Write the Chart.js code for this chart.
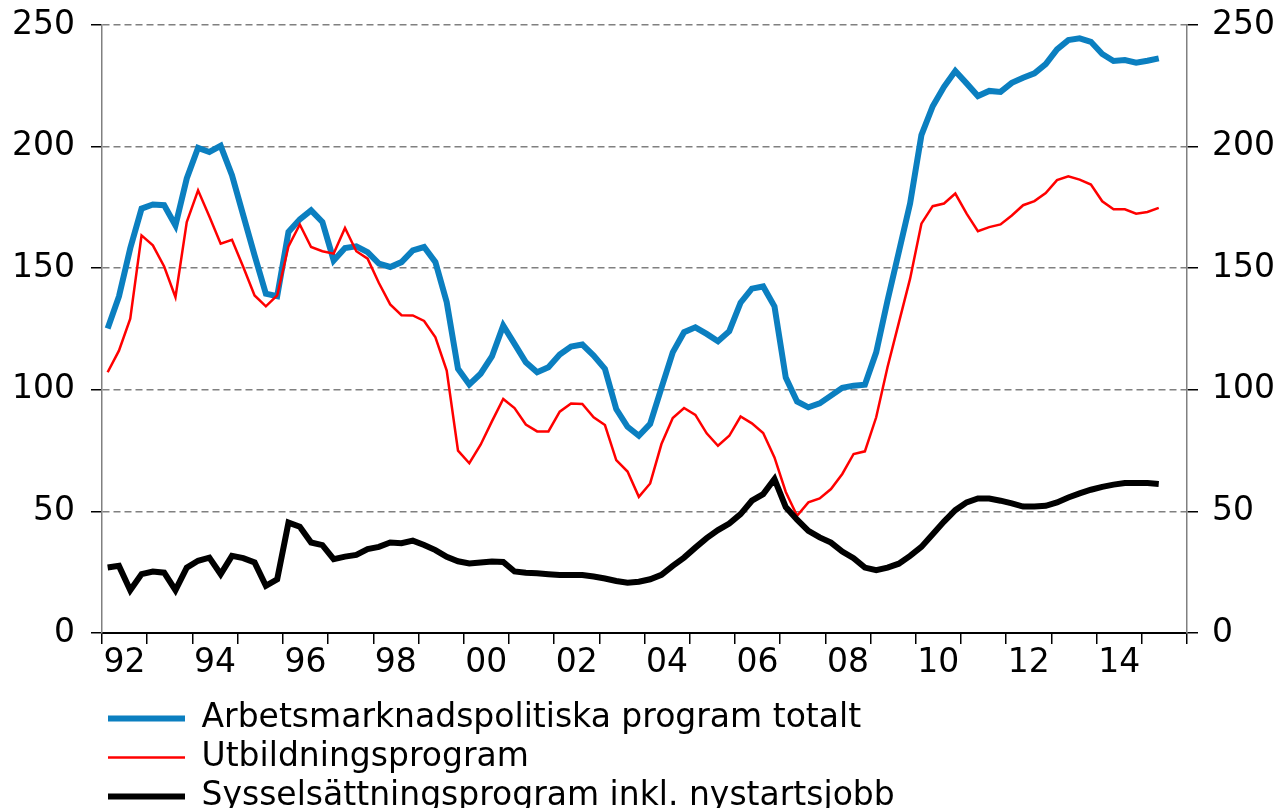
<!DOCTYPE html>
<html>
<head>
<meta charset="utf-8">
<script src="https://cdn.jsdelivr.net/npm/chart.js@4.4.0/dist/chart.umd.min.js"></script>
<style>
  html, body { margin: 0; padding: 0; background: #fff; overflow: hidden; }
  #wrap { width: 1280px; height: 823px; }
</style>
</head>
<body>
<div id="wrap"><canvas id="chart" width="1280" height="823"></canvas></div>
<script>
// quarterly data, 1992 Q1 - 2015 Q2 (thousands of persons)
const startYear = 1992;
const endYear = 2016;
const seriesNames = [
    "Arbetsmarknadspolitiska program totalt",
    "Utbildningsprogram",
    "Sysselsättningsprogram inkl. nystartsjobb"
];

const totalt = [
    125.2, 138.4, 158.2, 174.5, 176.2, 175.9, 167.6, 186.9, 199.5, 197.8,
    200.3, 188.2, 171.7, 155.3, 139.5, 138.5, 164.9, 170.1, 173.8, 169.0,
    153.2, 158.3, 159.0, 156.6, 151.9, 150.5, 152.5, 157.3, 158.7, 152.5,
    136.0, 108.6, 102.2, 106.6, 113.7, 126.4, 118.9, 111.3, 107.2, 109.3,
    114.5, 117.8, 118.6, 114.1, 108.6, 92.1, 84.8, 81.1, 86.0, 100.8,
    115.4, 123.7, 125.7, 123.0, 120.0, 124.1, 135.8, 141.6, 142.5, 134.3,
    105.0, 95.2, 92.8, 94.4, 97.6, 100.8, 101.7, 102.1, 115.4, 136.7,
    156.6, 176.6, 204.7, 216.6, 224.6, 231.1, 226.0, 220.8, 222.9, 222.5,
    226.2, 228.3, 230.1, 233.9, 240.0, 243.8, 244.5, 243.1, 238.1, 235.2,
    235.6, 234.5, 235.3, 236.3
];

const utbildning = [
    107.2, 116.1, 129.2, 163.5, 159.4, 150.7, 138.1, 169.0, 182.0, 171.3,
    160.1, 161.7, 150.5, 138.8, 134.3, 138.8, 159.0, 168.0, 158.7, 157.0,
    156.0, 166.5, 157.0, 153.9, 143.9, 135.1, 130.7, 130.6, 128.3, 121.6,
    107.9, 75.0, 69.8, 77.4, 87.0, 96.2, 92.5, 85.7, 82.9, 82.9,
    91.0, 94.4, 94.2, 88.7, 85.5, 71.1, 66.4, 56.0, 61.5, 77.7,
    88.4, 92.5, 89.7, 82.1, 77.0, 81.1, 89.0, 86.2, 82.2, 72.2,
    58.0, 48.2, 53.7, 55.3, 59.2, 65.4, 73.6, 74.7, 88.7, 109.3,
    127.5, 145.7, 168.3, 175.5, 176.6, 180.7, 172.4, 165.2, 166.9, 168.0,
    171.7, 175.9, 177.6, 180.9, 186.2, 187.8, 186.4, 184.4, 177.5, 174.2,
    174.2, 172.4, 173.1, 174.8
];

const syssels = [
    26.9, 27.6, 17.6, 24.2, 25.3, 24.8, 17.6, 26.9, 29.7, 31.0,
    24.2, 31.7, 30.8, 29.0, 19.4, 22.1, 45.4, 43.7, 37.2, 36.1,
    30.4, 31.4, 32.1, 34.5, 35.4, 37.2, 36.9, 38.0, 36.2, 34.1,
    31.3, 29.5, 28.6, 29.0, 29.4, 29.2, 25.3, 24.8, 24.6, 24.2,
    23.9, 23.9, 23.8, 23.2, 22.4, 21.4, 20.7, 21.1, 22.1, 23.9,
    27.6, 31.0, 35.1, 39.0, 42.3, 45.0, 48.9, 54.4, 57.1, 63.3,
    51.8, 46.6, 42.0, 39.3, 37.2, 33.5, 30.8, 26.9, 25.8, 26.9,
    28.5, 31.7, 35.4, 40.6, 45.8, 50.5, 53.7, 55.3, 55.3, 54.4,
    53.3, 52.0, 52.0, 52.3, 53.7, 55.7, 57.4, 58.9, 60.1, 61.0,
    61.7, 61.7, 61.7, 61.3
];

const yTicks = [0, 50, 100, 150, 200, 250];

// each quarter sits in the middle of its quarter on the year axis
function toPoints(values) {
    return values.map(function (v, i) {
        return { x: startYear + (i + 0.5) / 4, y: v };
    });
}

// fixed axis widths, no extra padding for the top/bottom tick labels
function fixAxis(width) {
    return function (scale) {
        scale.width = width;
        scale.paddingTop = 0;
        scale.paddingBottom = 0;
    };
}

Chart.defaults.font.family = "'DejaVu Sans', Verdana, sans-serif";
Chart.defaults.font.size = 33;
Chart.defaults.color = '#000';

const mainblue = '#0b7fc0';
const mainred = '#ff0000';
const gridgrey = '#808080';

const ctx = document.getElementById("chart").getContext("2d");

new Chart(ctx, {
    type: "line",
    data: {
        datasets: [
            {
                label: seriesNames[0],
                data: toPoints(totalt),
                borderColor: mainblue,
                backgroundColor: mainblue,
                borderWidth: 6,
                pointRadius: 0,
                tension: 0,
                order: 3,
            },
            {
                label: seriesNames[1],
                data: toPoints(utbildning),
                borderColor: mainred,
                backgroundColor: mainred,
                borderWidth: 2.5,
                pointRadius: 0,
                tension: 0,
                order: 2,
            },
            {
                label: seriesNames[2],
                data: toPoints(syssels),
                borderColor: '#000',
                backgroundColor: '#000',
                borderWidth: 6,
                pointRadius: 0,
                tension: 0,
                order: 1,
            },
        ],
    },
    options: {
        responsive: false,
        animation: false,
        layout: {
            padding: { top: 25, left: 0, right: 0, bottom: 0 },
        },
        plugins: {
            tooltip: { enabled: false },
            legend: {
                position: 'bottom',
                align: 'start',
                fullSize: false,
                labels: {
                    usePointStyle: true,
                    pointStyle: 'line',
                    pointStyleWidth: 77,
                    padding: 6,
                    color: '#000',
                    font: { size: 33 },
                    sort: function (a, b) {
                        return a.datasetIndex - b.datasetIndex;
                    },
                },
            },
        },
        scales: {
            x: {
                type: 'linear',
                position: 'bottom',
                min: startYear,
                max: endYear,
                afterFit: function (scale) {
                    scale.height = 63;
                },
                ticks: {
                    stepSize: 1,
                    autoSkip: false,
                    maxRotation: 0,
                    padding: 0,
                    labelOffset: 22.6,
                    callback: function (value) {
                        if (value % 2 === 0 && value < endYear) {
                            return String(value).slice(2);
                        }
                        return '';
                    },
                },
                grid: {
                    drawOnChartArea: false,
                    tickLength: 11,
                    tickColor: '#000',
                    lineWidth: 1.5,
                },
                border: {
                    color: '#000',
                    width: 2,
                },
            },
            y: {
                position: 'left',
                min: yTicks[0],
                max: yTicks[yTicks.length - 1],
                afterFit: fixAxis(102),
                ticks: {
                    stepSize: 50,
                    padding: 16,
                },
                grid: {
                    color: gridgrey,
                    lineWidth: 1.5,
                    tickColor: '#000',
                    tickLength: 11,
                },
                border: {
                    color: gridgrey,
                    width: 1.5,
                    dash: [7, 4],
                },
            },
            y1: {
                position: 'right',
                min: yTicks[0],
                max: yTicks[yTicks.length - 1],
                afterFit: fixAxis(93),
                ticks: {
                    stepSize: 50,
                    padding: 14,
                },
                grid: {
                    drawOnChartArea: false,
                    tickColor: '#000',
                    tickLength: 11,
                    lineWidth: 1.5,
                },
                border: {
                    color: gridgrey,
                    width: 1.5,
                },
            },
        },
    },
});
</script>
</body>
</html>
